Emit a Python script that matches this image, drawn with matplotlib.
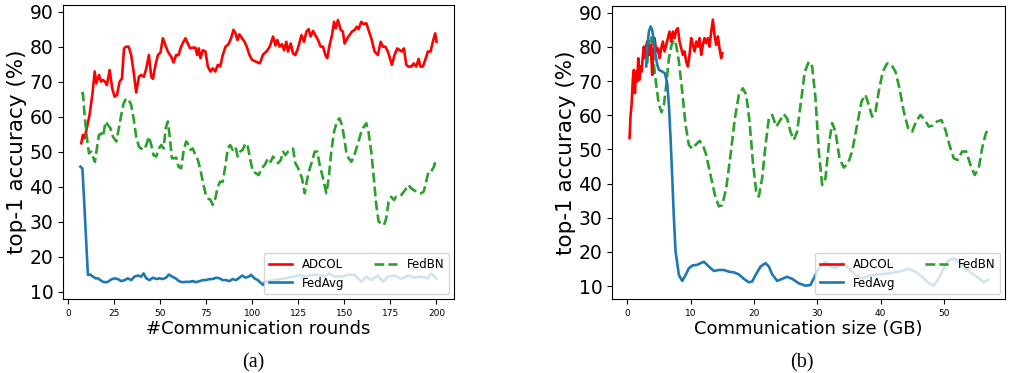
import matplotlib
matplotlib.use("Agg")
import matplotlib.pyplot as plt

# ---- (a) accuracy vs communication rounds ----
rounds_adcol = [7.2, 8.1, 9, 10, 11.7, 13.2, 14.5, 15.4, 16.8, 18,
                19, 20.4, 21.1, 22.6, 24, 25.3, 26.6, 28, 29.3, 30.4,
                31.6, 32.9, 34.3, 35.6, 37, 38.5, 39.7, 41.2, 42.5, 43.9,
                45.2, 46.1, 47.5, 48.8, 50.2, 51.5, 52.8, 54.2, 56, 57.3,
                58.7, 60, 61.4, 62.7, 63.8, 65, 66.3, 67.7, 69.2, 70.1,
                71, 71.9, 73.2, 74.6, 75.9, 77.3, 78.6, 80, 81.3, 82.6,
                84, 85.5, 87.1, 88.5, 89.8, 90.9, 92, 93, 94.5, 95.8,
                97, 98.5, 99.9, 102.1, 104.1, 105.9, 107.7, 109.5, 111.3, 112.6,
                113.6, 114.9, 116.2, 117.3, 118.5, 119.4, 120.9, 122.1, 123.4, 124.8,
                126.7, 128.1, 129.4, 130.6, 131.7, 133, 134.2, 135.7, 137.1, 138.4,
                139.7, 140.7, 142, 143.3, 144.4, 145.3, 146.5, 148, 149.2, 150.1,
                151.6, 152.8, 154.1, 155.6, 156.8, 157.7, 159.2, 160.6, 161.9, 163.1,
                164.6, 166.4, 168.2, 169.7, 170.9, 172.2, 173.6, 174.5, 175.8, 177.2,
                178.7, 180, 181.2, 182.3, 183.6, 184.8, 186.3, 187.7, 189, 190.3,
                191.3, 192.6, 193.9, 195.3, 196.8, 198, 199.3, 200]
acc_adcol = [52.5, 54.9, 54, 56.3, 60.6, 66.3, 73, 69.6, 72, 70.1,
             70.6, 69.9, 69.1, 73.4, 68.2, 65.8, 66.3, 70.1, 71, 79.6,
             80.1, 80.1, 77.7, 73, 67, 71.5, 72, 71.5, 73.9, 77.7,
             71.5, 70.9, 74.9, 77.7, 78.4, 82.5, 80.6, 78.7, 77.2, 75.6,
             77.7, 77.7, 80.1, 81.5, 82.5, 81, 79.6, 79.8, 79.8, 77.7,
             79.6, 76.8, 79.1, 78.7, 74.4, 73, 73.9, 73, 74.9, 74.4,
             77.7, 80.1, 80.8, 82.5, 84.9, 83.9, 82, 83.6, 82.5, 81.5,
             80.1, 77.7, 76.3, 75.8, 75.3, 77.9, 78.7, 80.1, 83, 80.4,
             82, 80.1, 80.8, 79.1, 81.5, 78.7, 81, 78.2, 77.7, 79.6,
             83.4, 81.5, 84.4, 85.1, 83, 84.6, 83.4, 82, 80.1, 80.1,
             77.7, 76.8, 80.6, 83.4, 87.2, 85.3, 87.7, 84.9, 84.4, 81,
             82.5, 83.4, 84.4, 84.9, 85.8, 85.1, 87.2, 86.5, 86.8, 84.9,
             82.5, 78.7, 77.7, 81.5, 80.1, 80.1, 78.7, 77.2, 74.9, 77.7,
             79.6, 79.1, 78.7, 79.6, 74.9, 74.4, 74.4, 75.3, 74.4, 76.6,
             74.4, 74.4, 76.3, 78.7, 78.7, 81.5, 83.9, 81.5]

rounds_fedbn = [7.2, 8.1, 9, 10.3, 11.4, 12.6, 13.5, 14.6, 15.7, 16.8,
                18.1, 19, 20.4, 21.7, 23, 24.4, 26.2, 27.6, 28.9, 30.2,
                31.6, 33, 34.3, 35.6, 37, 38.5, 39.7, 41.2, 42.5, 43.9,
                45.2, 46.4, 47.9, 49.3, 50.6, 51.9, 53, 54.2, 55.1, 56.4,
                57.5, 58.7, 60, 61.4, 62.7, 64.1, 65, 66.5, 67.7, 69.2,
                70.5, 71.7, 73.2, 74.6, 75.9, 77.3, 78.6, 80, 81.3, 82.6,
                84, 85.5, 86.7, 88, 89.4, 90.9, 92.1, 93.4, 94.8, 96.3,
                97.6, 98.8, 100.3, 102.1, 103.5, 105, 106.8, 108.6, 110, 111.3,
                112.6, 114, 115.5, 116.7, 118, 119.4, 120.9, 122.1, 123.4, 124.5,
                125.7, 127, 128.5, 129.9, 131.2, 132.4, 133.9, 135.3, 136.6, 138.4,
                140.2, 141.5, 142.9, 144.4, 146.2, 147.4, 148.7, 149.8, 151, 152.3,
                153.8, 155.2, 156.5, 157.7, 159.2, 160.6, 161.9, 163.1, 164.6, 166,
                167.3, 168.6, 170, 171.5, 172.7, 174, 175.4, 176.9, 178.1, 179.4,
                180.9, 182.3, 183.6, 184.8, 186.3, 187.7, 189, 190.3, 191.7, 193.1,
                194.4, 195.7, 197.1, 198.6, 199.8]
acc_fedbn = [66.8, 66.8, 60.6, 53.9, 49.6, 50.1, 48.7, 47.2, 51, 54.9,
             55.3, 54.4, 58.7, 57.7, 56.8, 54.4, 53, 56.8, 60.6, 63.9,
             65.3, 64.9, 63.4, 59.6, 54.4, 51.5, 51, 50.6, 52, 54.4,
             52, 49.1, 48.7, 51, 52, 51, 56.8, 58.7, 54.9, 48.2,
             48.2, 48.4, 45.8, 45.3, 50.1, 53, 52.5, 50.6, 51, 49.1,
             47.7, 45.3, 41.5, 38.2, 36.8, 36.3, 34.9, 36.8, 40.1, 41.5,
             41.5, 46.3, 51, 52, 50.6, 51.5, 48.7, 50.1, 50.6, 52.5,
             51.5, 48.2, 44.4, 43.9, 43.4, 45.3, 46.3, 48.2, 47.2, 48.7,
             47.7, 46.8, 47.7, 50.1, 49.1, 50.1, 50.6, 51, 46.8, 45.8,
             44.4, 42.5, 38.2, 42.5, 45.3, 47.2, 50.1, 50.1, 46.3, 42.5,
             38.2, 42.5, 50.1, 55.8, 59.1, 59.6, 57.7, 54.4, 50.1, 48.2,
             47.2, 48.7, 51, 53, 55.8, 57.2, 58.2, 55.8, 50.1, 42.5,
             34.9, 30.1, 29.6, 29.1, 31, 35.8, 37.2, 36.3, 37.2, 37.2,
             37.7, 38.7, 39.6, 40.6, 39.6, 39.1, 38.7, 38.2, 38.2, 38.7,
             41.5, 44.4, 44.4, 45.8, 48.2]

rounds_fedavg = [6.7, 7.8, 8.5, 9.6, 10.8, 12.1, 13.5, 15, 16.3, 17.5,
                 19, 20.4, 21.7, 23.5, 25.3, 27.1, 28.9, 30.7, 32.5, 34.3,
                 36.1, 37.9, 39.7, 41, 42.5, 44.3, 46.1, 47.9, 49.7, 51.5,
                 53.3, 54.7, 56.5, 58.4, 60.2, 62, 64.1, 65.9, 67.7, 69.6,
                 71.4, 73.2, 75, 76.8, 78.6, 80.4, 82.2, 84, 85.8, 87.6,
                 89.4, 91.2, 93.1, 94.5, 96.3, 98.1, 99.4, 101.2, 103, 104.8,
                 105.9, 107, 112.2, 117.6, 123, 125.7, 128.5, 132, 135.7, 139.3,
                 142, 144.7, 148.3, 151.9, 155.6, 159.2, 161.9, 164.6, 168.2, 170.9,
                 173.6, 177.2, 180.9, 184.5, 188.1, 191.7, 195.3, 197.1, 199.8]
acc_fedavg = [45.8, 45.3, 38.7, 27.2, 14.9, 15, 14.4, 13.9, 13.9, 13.4,
              12.9, 12.8, 12.9, 13.6, 13.9, 13.7, 13.1, 13.4, 13.9, 13.4,
              14.4, 14.7, 14.4, 15.3, 13.9, 13.4, 14.1, 13.7, 13.9, 13.7,
              14.1, 15, 14.4, 13.9, 13.1, 12.8, 12.9, 12.9, 13.1, 12.8,
              13.1, 13.4, 13.4, 13.7, 13.7, 14.1, 13.9, 13.4, 13.4, 13.1,
              13.7, 13.4, 14.1, 14.7, 14.1, 14.4, 14.9, 13.9, 13.4, 12.5,
              12, 12.9, 13.4, 13.9, 14.4, 14.9, 14.4, 14.9, 14.9, 14.4,
              15.3, 14.4, 14.4, 14.9, 14.9, 12.9, 14.4, 13.4, 14.7, 12.9,
              14.4, 14.7, 13.7, 14.7, 14.1, 14.4, 13.9, 15.3, 13.9]

# ---- (b) accuracy vs communication size (GB) ----
gb_adcol = [0.36, 0.52, 0.68, 0.89, 1.05, 1.2, 1.42, 1.57, 1.73, 1.94,
            2.1, 2.26, 2.47, 2.62, 2.78, 2.89, 3.15, 3.41, 3.68, 3.94,
            4.1, 4.31, 4.57, 4.83, 5.1, 5.36, 5.62, 5.88, 6.15, 6.41,
            6.67, 6.94, 7.2, 7.46, 7.72, 7.99, 8.25, 8.51, 8.78, 9.04,
            9.3, 9.57, 9.83, 10.09, 10.35, 10.62, 10.88, 11.14, 11.41, 11.67,
            11.93, 12.19, 12.46, 12.72, 12.98, 13.25, 13.51, 13.77, 14.03, 14.3,
            14.56, 14.82, 14.98]
gb_acc_adcol = [53.3, 60.1, 63, 70.9, 73.3, 66.5, 72.8, 69.9, 76.7, 70.4,
                74.3, 72.8, 77.7, 80.1, 76.7, 79.6, 81.6, 77.7, 80.6, 71.8,
                78.7, 82.6, 78.7, 79.6, 76.7, 79.6, 81.6, 78.7, 80.6, 82.6,
                84.5, 81.6, 84.5, 82.6, 85, 85.5, 81.6, 79.6, 77.7, 78.7,
                75.7, 74.3, 77.7, 82.6, 80.6, 78.7, 81.6, 80.1, 82.6, 77.7,
                80.6, 82.6, 81.1, 82.6, 80.1, 84.5, 88, 83.5, 80.6, 83.1,
                79.6, 76.7, 78.2]

gb_fedavg = [2.99, 3.15, 3.41, 3.68, 3.94, 4.2, 4.46, 4.73, 4.99, 5.52,
             5.94, 6.3, 6.57, 6.83, 7.1, 7.36, 7.62, 8.15, 8.67, 9.2,
             9.72, 10.25, 11.04, 11.56, 12.09, 12.88, 13.67, 14.45, 15.24, 16.03,
             16.82, 17.61, 18.4, 19.19, 19.71, 20.24, 21.03, 21.82, 22.34, 22.87,
             23.66, 24.45, 25.23, 26.02, 27.07, 28.12, 28.91, 29.44, 30.23, 31.28,
             32.07, 32.86, 33.91, 34.96, 36.01, 37.06, 38.11, 39.69, 41.27, 42.85,
             44.42, 45.47, 46.53, 47.58, 48.37, 49.16, 49.94, 50.73, 51.52, 52.31,
             53.36, 54.41, 55.46, 56.25, 56.94]
gb_acc_fedavg = [74.3, 79.6, 84.5, 86, 85, 81.6, 77.7, 74.8, 73.3, 72.8,
                 72.3, 69.4, 63, 53.3, 41.6, 29.8, 20.1, 13.2, 11.5, 13.2,
                 15.2, 16, 16.2, 16.7, 17.1, 15.7, 14.4, 14.7, 14.7, 14.2,
                 14, 13.4, 12.1, 11.1, 11.3, 13.2, 15.7, 16.7, 15.7, 13.4,
                 11.5, 12.1, 12.7, 12.1, 10.8, 10.1, 10.3, 12.3, 15.2, 17.1,
                 15.7, 15.2, 16.7, 15.2, 13.2, 12.2, 13, 13.4, 13.7, 14.2,
                 15, 14.2, 12.7, 10.8, 10.1, 12.3, 15.2, 17.6, 18.1, 17.1,
                 15.2, 13.7, 12.3, 11.1, 11.8]

gb_fedbn = [3.15, 3.52, 3.83, 4.2, 4.57, 4.99, 5.41, 5.78, 6.15, 6.57,
            6.99, 7.36, 7.72, 8.15, 8.67, 9.2, 9.72, 10.25, 10.77, 11.41,
            11.93, 12.46, 13.14, 13.82, 14.45, 14.98, 15.61, 16.3, 16.98, 17.61,
            18.24, 18.77, 19.29, 19.82, 20.34, 20.76, 21.29, 21.82, 22.34, 22.87,
            23.5, 24.02, 24.71, 25.23, 25.76, 26.28, 26.81, 27.34, 28.02, 28.65,
            29.18, 29.7, 30.23, 30.75, 31.28, 31.8, 32.33, 32.86, 33.49, 34.17,
            34.85, 35.48, 36.27, 36.96, 37.59, 38.11, 38.64, 39.17, 39.69, 40.32,
            41.01, 41.69, 42.32, 42.95, 43.63, 44.32, 44.95, 45.58, 46.27, 46.95,
            47.58, 48.21, 48.9, 49.58, 50.21, 50.84, 51.52, 52.15, 52.84, 53.47,
            54.15, 54.83, 55.46, 55.99, 56.51, 56.94]
gb_acc_fedbn = [75.2, 83.1, 82.6, 74.8, 68.9, 63, 60.9, 63, 68.9, 76.7,
                80.6, 82.1, 80.6, 75.7, 67, 57.2, 51.3, 50.2, 51.3, 52.5,
                51.3, 48.4, 42.5, 36.7, 33.3, 33.7, 38.6, 48.4, 59.1, 66,
                67.9, 66, 58.2, 46.4, 37.7, 36.2, 41.6, 51.3, 59.1, 60.1,
                56.7, 58.2, 60.3, 59.1, 55.2, 52.8, 55.2, 63, 72.8, 75.7,
                74.3, 65, 49.4, 39.6, 41.6, 51.3, 57.7, 55.2, 47.4, 44.7,
                46, 49.4, 57.2, 64, 66, 63, 59.6, 61.1, 67, 72.8,
                75.2, 74.8, 72.8, 67.9, 61.1, 56.2, 55.2, 58.2, 60.1, 58.6,
                56.7, 57, 58.2, 58.6, 55.7, 51.3, 47.4, 46.9, 49.4, 49.4,
                45.5, 42.5, 44.5, 50.3, 54.3, 56.2]

yticks = [10, 20, 30, 40, 50, 60, 70, 80, 90]

fig = plt.figure(figsize=(10.1, 3.73), dpi=100)
ax1 = fig.add_axes([0.0624, 0.1984, 0.3871, 0.7882])
ax2 = fig.add_axes([0.606, 0.1984, 0.389, 0.7855])

lw = 1.9
ax1.plot(rounds_adcol, acc_adcol, color="red", lw=lw, label="ADCOL")
ax1.plot(rounds_fedavg, acc_fedavg, color="tab:blue", lw=lw, label="FedAvg")
ax1.plot(rounds_fedbn, acc_fedbn, color="tab:green", lw=lw, ls="--", label="FedBN")

ax2.plot(gb_fedbn, gb_acc_fedbn, color="tab:green", lw=lw, ls="--", label="FedBN")
ax2.plot(gb_adcol, gb_acc_adcol, color="red", lw=lw, label="ADCOL")
ax2.plot(gb_fedavg, gb_acc_fedavg, color="tab:blue", lw=lw, label="FedAvg")

ax1.set_xlim(-2.7, 209.5)
ax1.set_ylim(8, 92)
ax1.set_xticks([0, 25, 50, 75, 100, 125, 150, 175, 200])
ax1.set_xlabel("#Communication rounds", fontsize=13, labelpad=2)

ax2.set_xlim(-2.4, 59.6)
ax2.set_ylim(6.2, 92)
ax2.set_xticks([0, 10, 20, 30, 40, 50])
ax2.set_xlabel("Communication size (GB)", fontsize=13, labelpad=2)

for ax in (ax1, ax2):
    ax.set_yticks(yticks)
    ax.tick_params(axis="x", labelsize=6.5)
    ax.tick_params(axis="y", labelsize=13.5)
    ax.set_ylabel("top-1 accuracy (%)", fontsize=15.5, labelpad=2)
    h, l = ax.get_legend_handles_labels()
    order = [l.index("ADCOL"), l.index("FedAvg"), l.index("FedBN")]
    ax.legend([h[i] for i in order], [l[i] for i in order], loc="lower right",
              ncol=2, fontsize=8.5, borderaxespad=0.4, columnspacing=2.5)

fig.text(0.2505, 0.027, "(a)", ha="center", va="center", fontsize=14.5,
         family="Liberation Serif")
fig.text(0.794, 0.027, "(b)", ha="center", va="center", fontsize=14.5,
         family="Liberation Serif")

fig.savefig("out.png", dpi=100)
